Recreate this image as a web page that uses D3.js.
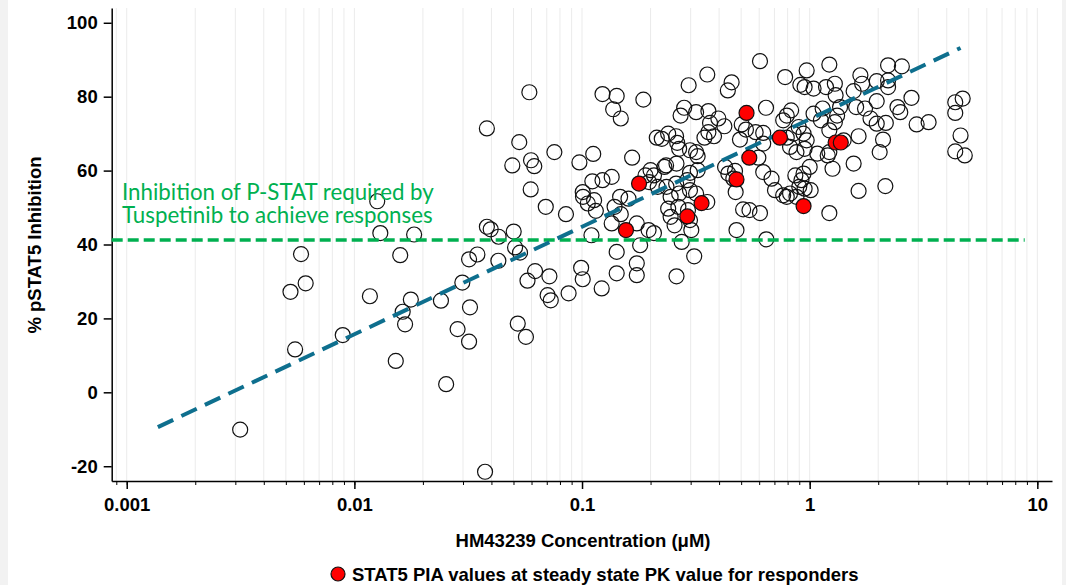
<!DOCTYPE html>
<html>
<head>
  <meta charset="utf-8" />
  <script src="https://d3js.org/d3.v7.min.js"></script>
</head>
<style>

body {
  margin: 0;
  background: #f2f2f2;
}

#viz {
  position: absolute;
  left: 8px;
  top: 0;
  width: 1054px;
  height: 585px;
  background: #fff;
}

svg {
  position: absolute;
  left: -8px;
  top: 0;
}

text {
  font-family: 'Liberation Sans', Arial, sans-serif;
  font-weight: bold;
  fill: #000;
}

</style>
<body>
<div id="viz"></div>
<script>
'use strict';

// HM43239 concentration (uM) and % pSTAT5 inhibition, all patients (open circles)
const openConc = [
  0.00583, 0.00524, 0.00611, 0.00549, 0.00889, 0.00315,
  0.0126, 0.0130, 0.0183, 0.0382, 0.0587, 0.0530, 0.0494, 0.0597, 0.0617, 0.0756, 0.0595, 0.0693, 0.085, 0.0974,
  0.0382, 0.0397, 0.0430, 0.0501, 0.0508, 0.0534, 0.0159, 0.0347, 0.0319, 0.0429,
  0.0117, 0.0177, 0.0163, 0.0167, 0.0152, 0.0240, 0.0298, 0.0322, 0.0284, 0.0319, 0.0253, 0.0375,
  0.0622, 0.0576, 0.0719, 0.0706, 0.0729, 0.0522, 0.0567, 0.0873, 0.0991, 0.1007, 0.122,
  0.123, 0.112, 0.111, 0.1007, 0.101, 0.106, 0.113, 0.115, 0.110,
  0.605, 0.355, 0.294, 0.454, 0.437, 0.78, 0.97, 0.91, 0.95,
  0.142, 0.186, 0.137, 0.148,
  0.281, 0.271, 0.317, 0.359, 0.397, 0.422, 0.365, 0.359, 0.380, 0.345,
  0.643, 0.503, 0.525, 0.579, 0.625, 0.494, 0.625,
  0.829, 0.793, 0.765,
  0.793, 0.85, 0.895, 0.94, 0.82, 0.875, 0.97, 0.95,
  0.213, 0.224, 0.239, 0.259, 0.262, 0.267, 0.298, 0.317, 0.322,
  0.166, 0.234, 0.26, 0.298, 0.322,
  0.425, 0.439, 0.470, 0.462, 0.595,
  0.625, 0.68, 0.704, 0.765, 0.793, 0.82, 0.875, 0.90, 0.865, 0.92, 0.94, 0.95,
  0.123, 0.135,
  0.19, 0.207, 0.197, 0.215, 0.23, 0.20,
  0.259, 0.29, 0.298, 0.317, 0.267, 0.235, 0.245, 0.147, 0.16, 0.355,
  0.139, 0.148, 0.135, 0.174, 0.196, 0.207, 0.18, 0.142, 0.142, 0.174, 0.174,
  0.239, 0.265, 0.245, 0.255, 0.292, 0.298, 0.302, 0.274, 0.311, 0.26,
  0.473, 0.51, 0.544, 0.605, 0.477, 0.645,
  1.22, 1.04, 1.18, 1.29, 1.30, 1.67, 1.70, 1.56, 1.97, 2.21, 2.21, 2.21, 2.54, 2.8, 1.97, 2.43, 2.5, 2.95, 3.33,
  4.36, 4.7, 4.36, 4.6, 4.36, 4.8,
  1.6, 1.75, 1.85, 1.97, 2.16,
  1.04, 1.14, 1.12, 1.32, 1.29, 1.36, 1.22,
  1.41, 1.64, 1.08, 1.2, 1.22, 1.0, 1.26, 1.56, 2.1, 2.03, 1.01, 1.64, 2.15, 1.22
];
const openInh = [
  37.4, 27.2, 29.5, 11.6, 15.5, -10.1,
  51.7, 43.1, 42.7, 71.4, 81.2, 67.7, 61.4, 62.8, 61.2, 65.0, 54.9, 50.2, 48.2, 62.2,
  44.8, 44.1, 42.1, 43.5, 39.2, 37.8, 37.1, 37.3, 36.0, 35.6,
  26.0, 25.1, 21.8, 18.4, 8.5, 24.8, 29.7, 23.0, 17.1, 13.7, 2.2, -21.5,
  32.8, 30.2, 31.4, 26.3, 24.9, 18.6, 15.0, 26.8, 33.7, 30.6, 28.1,
  80.7, 64.5, 57.1, 54.2, 52.9, 51.1, 52.0, 49.1, 42.5,
  89.6, 86.0, 83.1, 83.9, 81.7, 85.3, 87.1, 83.2, 82.6,
  80.2, 79.2, 76.6, 74.1,
  77.0, 74.9, 75.8, 76.1, 74.1, 72.0, 72.9, 70.4, 69.3, 68.9,
  77.0, 72.5, 71.1, 70.4, 70.2, 68.4, 67.3,
  76.3, 74.9, 73.6,
  68.9, 70.0, 71.8, 70.0, 66.4, 65.0, 68.2, 65.9,
  68.9, 68.6, 70.0, 69.3, 67.5, 65.9, 65.5, 65.0, 63.9,
  63.5, 61.4, 61.9, 59.4, 60.1,
  61.0, 59.2, 59.9, 57.8, 63.5,
  59.6, 57.8, 54.7, 53.3, 52.9, 53.8, 52.9, 55.6, 58.7, 57.4, 59.2, 55.1,
  57.4, 58.3,
  58.7, 58.7, 56.9, 55.6, 61.0, 60.1,
  56.5, 57.4, 54.7, 53.8, 53.8, 55.6, 52.9, 52.9, 52.4, 51.5,
  50.2, 48.2, 45.7, 45.7, 43.9, 43.1, 39.8, 38.0, 32.2, 34.9, 31.7,
  49.7, 50.2, 47.5, 45.2, 49.3, 46.6, 43.9, 40.7, 36.8, 31.4,
  54.2, 49.5, 49.3, 48.5, 43.9, 41.4,
  88.7, 82.2, 82.6, 83.5, 80.4, 85.8, 83.5, 81.5, 84.2, 84.4, 82.6, 88.5, 88.2, 79.7, 78.8, 77.2, 75.8, 72.5, 73.1,
  78.5, 79.5, 75.6, 69.5, 65.2, 64.1,
  77.2, 76.8, 74.1, 72.7, 72.9,
  75.4, 76.8, 73.6, 74.9, 73.1, 77.2, 70.9,
  68.2, 69.3, 64.6, 64.1, 65.0, 61.0, 60.5, 61.9, 68.4, 65.0, 54.7, 54.5, 55.8, 48.5
];

// responders at steady state PK (red)
const respConc = [0.528, 0.74, 0.477, 0.543, 0.178, 0.335, 0.29, 0.156, 0.94, 1.30, 1.37];
const respInh = [75.6, 68.9, 57.6, 63.5, 56.5, 51.2, 47.6, 43.9, 50.4, 67.6, 67.6];

// fitted line: inhibition = fitIntercept + fitSlope * log10(conc)
const fitIntercept = 73.9;
const fitSlope = 29.1;
const fitRange = [0.00137, 4.6];

const threshold = 41.2;
const thresholdEnd = 8.8;
const noteLines = ['Inhibition of P-STAT required by', 'Tuspetinib to achieve responses'];

const yTicks = [-20, 0, 20, 40, 60, 80, 100];
const xMajor = [0.001, 0.01, 0.1, 1, 10];
const xLabels = ['0.001', '0.01', '0.1', '1', '10'];
const legendLabel = 'STAT5 PIA values at steady state PK value for responders';

function viz() {
  const width = 1066;
  const height = 585;

  const svg = d3.select('#viz')
    .append('svg')
      .attr('width', width)
      .attr('height', height);

  const x = d3.scaleLog()
    .domain([0.000859, 11.6])
    .range([111.7, 1052]);
  const y = d3.scaleLinear()
    .domain([-24, 104])
    .range([481, 8]);

  const xMinor = [];
  for (const m of xMajor) {
    for (let k = 1; k < 10; k++) {
      const v = m * k;
      if (v >= x.domain()[0] && v <= x.domain()[1]) xMinor.push(v);
    }
  }
  xMinor.push(0.0009);

  // vertical grid
  svg.append('g')
    .selectAll('line').data(xMinor)
    .enter().append('line')
      .attr('x1', d => x(d)).attr('x2', d => x(d))
      .attr('y1', y.range()[1]).attr('y2', y.range()[0])
      .style('stroke', '#ebebeb')
      .style('stroke-width', '1px');

  // minor ticks
  svg.append('g')
    .attr('transform', 'translate(0,' + y.range()[0] + ')')
    .call(d3.axisBottom(x).tickValues(xMinor).tickSize(4).tickSizeOuter(0).tickFormat(''))
    .call(g => g.select('.domain').remove())
    .selectAll('line').style('stroke', '#000').style('stroke-width', '1px');

  const xAxis = svg.append('g')
    .attr('transform', 'translate(0,' + y.range()[0] + ')')
    .call(d3.axisBottom(x).tickValues(xMajor).tickSize(8).tickSizeOuter(0)
      .tickPadding(9).tickFormat((d, i) => xLabels[i]));
  xAxis.selectAll('text').style('font-size', '18.5px');
  xAxis.selectAll('line, path').style('stroke', '#000').style('stroke-width', '1.5px');

  const yAxis = svg.append('g')
    .attr('transform', 'translate(' + x.range()[0] + ',0)')
    .call(d3.axisLeft(y).tickValues(yTicks).tickSize(8).tickSizeOuter(0).tickPadding(6)
      .tickFormat(d => String(d)));
  yAxis.selectAll('text').style('font-size', '18.5px');
  yAxis.selectAll('line, path').style('stroke', '#000').style('stroke-width', '1.5px');
  svg.selectAll('.tick text').attr('font-family', null).attr('font-size', null);

  // open circles
  const openData = openConc.map((c, i) => ({c: c, v: openInh[i]}));
  svg.append('g')
    .selectAll('circle').data(openData)
    .enter().append('circle')
      .attr('r', 7.5)
      .attr('cx', d => x(d.c))
      .attr('cy', d => y(d.v))
      .style('fill', 'none')
      .style('stroke', '#111')
      .style('stroke-width', '1.2px');

  // threshold
  svg.append('line')
    .attr('x1', x.range()[0]).attr('x2', x(thresholdEnd))
    .attr('y1', y(threshold)).attr('y2', y(threshold))
    .style('stroke', '#00b050')
    .style('stroke-width', '3.5px')
    .style('stroke-dasharray', '11,5');

  svg.append('text')
    .attr('x', 122)
    .attr('y', 200)
    .style('font-family', 'Lato, sans-serif')
    .style('font-weight', 'normal')
    .style('font-size', '22.3px')
    .style('fill', '#00b050')
    .selectAll('tspan').data(noteLines)
    .enter().append('tspan')
      .attr('x', 122)
      .attr('dy', (d, i) => i ? 23 : 0)
      .text(d => d);

  // fitted line
  const fitPts = fitRange.map(c => [c, fitIntercept + fitSlope * Math.log10(c)]);
  svg.append('path')
    .attr('d', d3.line().x(d => x(d[0])).y(d => y(d[1]))(fitPts))
    .style('fill', 'none')
    .style('stroke', '#0e6f8e')
    .style('stroke-width', '4px')
    .style('stroke-dasharray', '17,9');

  // responders
  const respData = respConc.map((c, i) => ({c: c, v: respInh[i]}));
  svg.append('g')
    .selectAll('circle').data(respData)
    .enter().append('circle')
      .attr('r', 7.5)
      .attr('cx', d => x(d.c))
      .attr('cy', d => y(d.v))
      .style('fill', '#ff0000')
      .style('stroke', '#111')
      .style('stroke-width', '1.2px');

  // axis titles
  svg.append('text')
    .attr('transform', 'translate(41,245) rotate(-90)')
    .attr('text-anchor', 'middle')
    .style('font-size', '18.5px')
    .text('% pSTAT5 Inhibition');

  svg.append('text')
    .attr('x', 583)
    .attr('y', 547)
    .attr('text-anchor', 'middle')
    .style('font-size', '18.5px')
    .text('HM43239 Concentration (μM)');

  // legend
  svg.append('circle')
    .attr('cx', 338).attr('cy', 574).attr('r', 7)
    .style('fill', '#ff0000')
    .style('stroke', '#111')
    .style('stroke-width', '1.2px');
  svg.append('text')
    .attr('x', 352)
    .attr('y', 581)
    .style('font-size', '18.5px')
    .text(legendLabel);
}

viz();

</script>
</body>
</html>
